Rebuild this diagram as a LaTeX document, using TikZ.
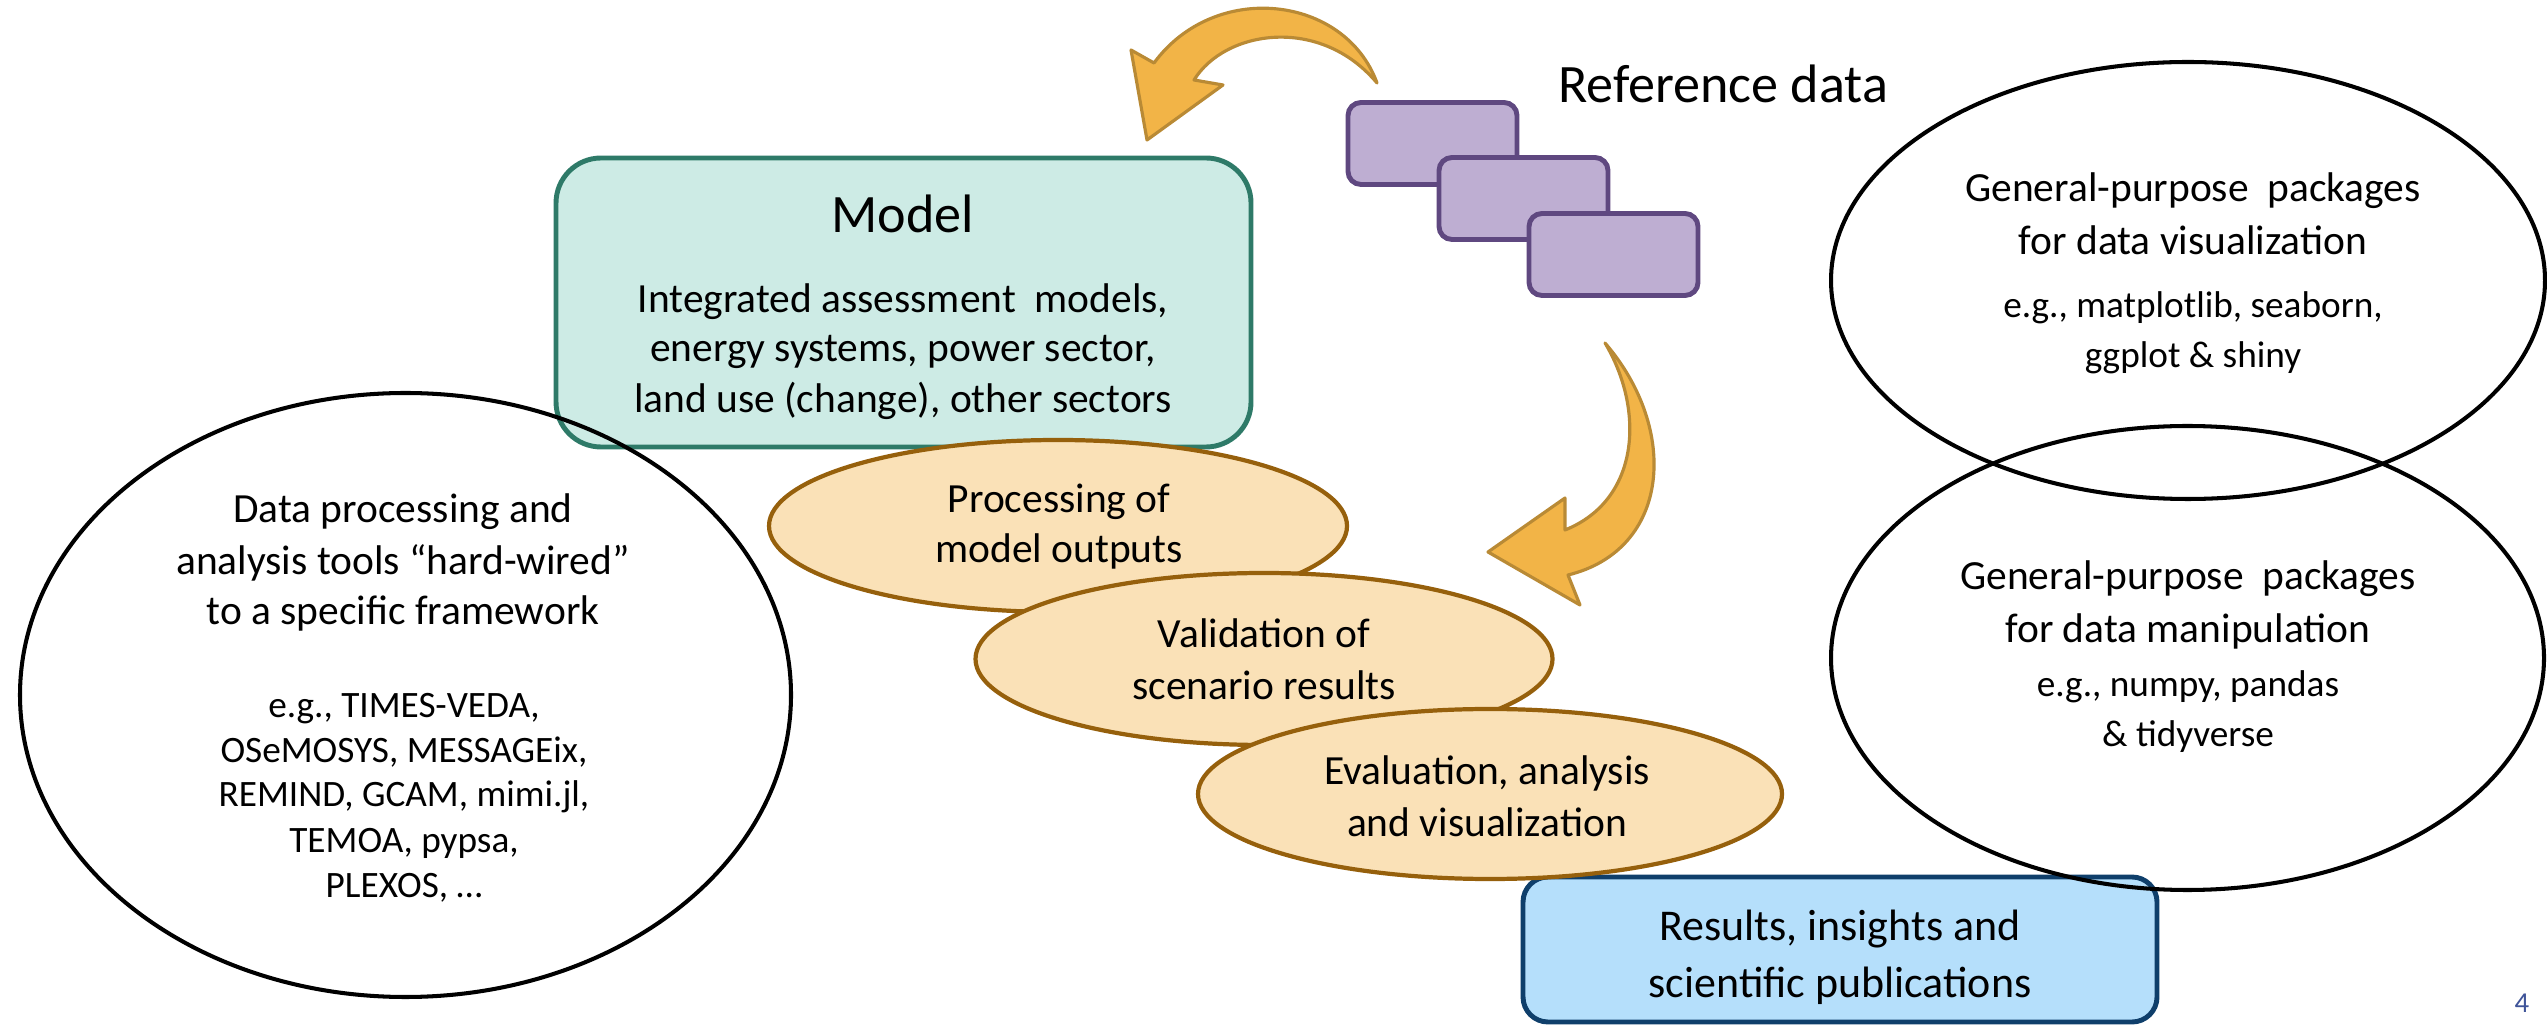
\documentclass[tikz,border=0pt]{standalone}
\usepackage{fontspec}
\setmainfont{Carlito}
\usetikzlibrary{shapes.geometric}
\definecolor{modelfill}{HTML}{CDEBE5}
\definecolor{modeldraw}{HTML}{2E7A68}
\definecolor{purfill}{HTML}{BEAED2}
\definecolor{purdraw}{HTML}{5F4880}
\definecolor{arrfill}{HTML}{F2B447}
\definecolor{arrdraw}{HTML}{B98A35}
\definecolor{ovfill}{HTML}{FAE1B7}
\definecolor{ovdraw}{HTML}{96600C}
\definecolor{resfill}{HTML}{B5DFFB}
\definecolor{resdraw}{HTML}{0F3F6B}
\definecolor{pgnum}{HTML}{3F5499}
\begin{document}
\begin{tikzpicture}[x=0.1mm,y=-0.1mm,
  modelbox/.style={draw=modeldraw, fill=modelfill, line width=1.4pt, rounded corners=4.5mm, minimum width=69.5mm, minimum height=28.9mm, inner sep=0},
  databox/.style={draw=purdraw, fill=purfill, line width=1.4pt, rounded corners=1.3mm, minimum width=16.9mm, minimum height=8.2mm, inner sep=0},
  arrowshape/.style={draw=arrdraw, fill=arrfill, line width=0.9pt, line join=round},
  oval/.style={ellipse, draw=ovdraw, fill=ovfill, line width=1.2pt, inner sep=0},
  bigell/.style={ellipse, draw=black, line width=1.15pt, inner sep=0},
  resbox/.style={draw=resdraw, fill=resfill, line width=1.4pt, rounded corners=2.5mm, minimum width=63.4mm, minimum height=14.5mm, inner sep=0},
  txtbase/.style={inner sep=0, anchor=base},
  ttl/.style={txtbase, font=\fontsize{15.4pt}{18pt}\selectfont},
  body/.style={txtbase, font=\fontsize{11.8pt}{14pt}\selectfont},
  small/.style={txtbase, font=\fontsize{10.6pt}{13pt}\selectfont},
  res/.style={txtbase, font=\fontsize{12.5pt}{15pt}\selectfont},
  pnum/.style={txtbase, text=pgnum, font=\fontsize{8.2pt}{10pt}\selectfont}
]
\useasboundingbox (0,0) rectangle (2547,1025);

% model box
\node[modelbox] (model) at (903.5,302.5) {};
% left big ellipse
\node[bigell, minimum width=77.1mm, minimum height=60.4mm] (tools) at (405.5,695) {};
% reference data boxes
\node[databox] (d1) at (1432.5,143.5) {};
\node[databox] (d2) at (1523.5,198.5) {};
\node[databox] (d3) at (1613.5,254.5) {};
% curved arrows
\draw[arrowshape] (1377,83) .. controls (1345,-5) and (1215,-20) .. (1154,63) -- (1131,50) -- (1147,140) -- (1223,85) -- (1194,80) .. controls (1225,30) and (1320,15) .. (1377,83) -- cycle;
\draw[arrowshape] (1605,343) .. controls (1680,430) and (1670,550) .. (1568,575) -- (1580,605) -- (1488,552) -- (1565,498) -- (1565,530) .. controls (1640,500) and (1645,410) .. (1605,343) -- cycle;
% process ovals
\node[oval, minimum width=57.8mm, minimum height=17.2mm] (proc) at (1058,526) {};
\node[oval, minimum width=57.7mm, minimum height=17.2mm] (valid) at (1264,659) {};
\node[resbox] (results) at (1840,949.5) {};
\node[oval, minimum width=58.4mm, minimum height=17mm] (eval) at (1490,794) {};
% right ellipses
\node[bigell, minimum width=71.4mm, minimum height=43.7mm] (viz) at (2188,280.5) {};
\node[bigell, minimum width=71.3mm, minimum height=46.4mm] (manip) at (2187.5,658) {};

% texts
\node[ttl] (modelttl) at (903,233) {Model};
\node[body] (m1) at (903,313) {Integrated assessment\ \ models,};
\node[body] (m2) at (903,362) {energy systems, power sector,};
\node[body] (m3) at (903,413) {land use (change), other sectors};
\node[ttl] (refdata) at (1723,103) {Reference data};

\node[body] (l1) at (403,523) {Data processing and};
\node[body] (l2) at (403,575) {analysis tools “hard-wired”};
\node[body] (l3) at (403,625) {to a specific framework};
\node[small] (l4) at (404,718) {e.g., TIMES-VEDA,};
\node[small] (l5) at (404,763) {OSeMOSYS, MESSAGEix,};
\node[small] (l6) at (404,807) {REMIND, GCAM, mimi.jl,};
\node[small] (l7) at (404,852) {TEMOA, pypsa,};
\node[small] (l8) at (404,897) {PLEXOS, …};

\node[body] (v1) at (2193,202) {General-purpose\ \ packages};
\node[body] (v2) at (2193,255) {for data visualization};
\node[small] (v3) at (2193,318) {e.g., matplotlib, seaborn,};
\node[small] (v4) at (2193,368) {ggplot \& shiny};

\node[body] (n1) at (2188,590) {General-purpose\ \ packages};
\node[body] (n2) at (2188,643) {for data manipulation};
\node[small] (n3) at (2188,697) {e.g., numpy, pandas};
\node[small] (n4) at (2188,747) {\& tidyverse};

\node[body] (p1) at (1059,513) {Processing of};
\node[body] (p2) at (1059,563) {model outputs};
\node[body] (q1) at (1264,648) {Validation of};
\node[body] (q2) at (1264,700) {scenario results};
\node[body] (e1) at (1487,785) {Evaluation, analysis};
\node[body] (e2) at (1487,837) {and visualization};

\node[res] (r1) at (1840,940) {Results, insights and};
\node[res] (r2) at (1840,997) {scientific publications};

\node[pnum] (page) at (2522,1012) {4};
\end{tikzpicture}
\end{document}
